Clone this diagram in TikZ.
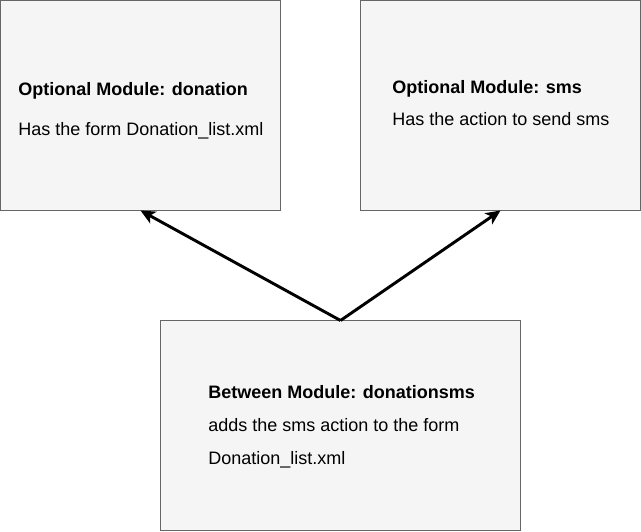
\documentclass[tikz,border=0pt]{standalone}
\usepackage{fontspec}
\setmainfont{Liberation Sans}
\usetikzlibrary{arrows.meta}
\definecolor{boxfill}{HTML}{F5F5F5}
\definecolor{boxline}{HTML}{666666}
\tikzset{
  modbox/.style={draw=boxline, fill=boxfill, line width=0.75pt, rectangle,
    inner sep=0pt, outer sep=0pt, minimum height=157.5pt},
  modtext/.style={anchor=base west, inner sep=0pt, font=\fontsize{13.5pt}{16pt}\selectfont},
  dep/.style={line width=2.2pt, -{Stealth[length=11pt, width=10pt, inset=3pt]}}
}
\begin{document}
\begin{tikzpicture}[x=0.75pt, y=-0.75pt]
  \useasboundingbox (0,0) rectangle (641,531);
  % modules
  \node[modbox, minimum width=210pt] (donation) at (140.5,105.5) {};
  \node[modbox, minimum width=210pt] (sms) at (500.5,105.5) {};
  \node[modbox, minimum width=270pt] (between) at (340.5,425.5) {};
  % texts
  \node[modtext] (donationtitle) at (18,96) {\textbf{Optional Module: donation}};
  \node[modtext] (donationdesc) at (18,135) {Has the form Donation\_list.xml};
  \node[modtext] (smstitle) at (392,94) {\textbf{Optional Module: sms}};
  \node[modtext] (smsdesc) at (392,126) {Has the action to send sms};
  \node[modtext] (bettitle) at (208,398) {\textbf{Between Module: donationsms}};
  \node[modtext] (betdesca) at (208,431) {adds the sms action to the form};
  \node[modtext] (betdescb) at (208,464) {Donation\_list.xml};
  % dependencies
  \draw[dep] (between.north) -- (donation.south);
  \draw[dep] (between.north) -- (sms.south);
\end{tikzpicture}
\end{document}
